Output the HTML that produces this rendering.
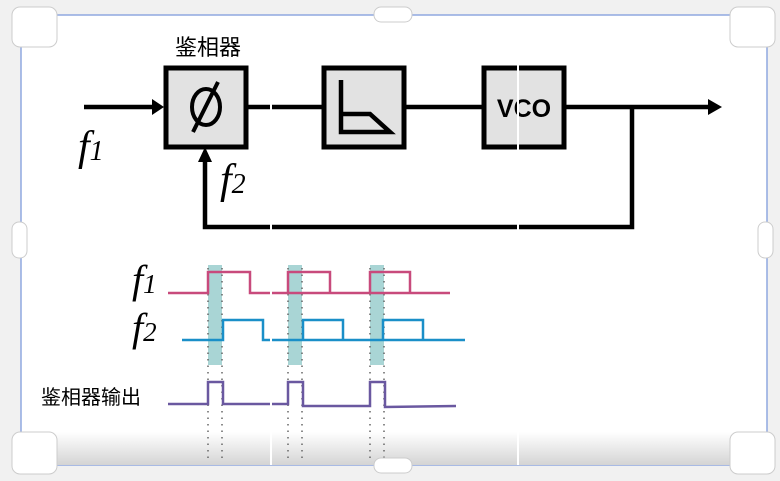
<!DOCTYPE html>
<html><head><meta charset="utf-8"><style>
html,body{margin:0;padding:0;background:#f1f1f1;}
svg{display:block}
</style></head><body>
<svg width="780" height="481" viewBox="0 0 780 481" xmlns="http://www.w3.org/2000/svg">
<defs>
<linearGradient id="g" x1="0" y1="0" x2="0" y2="1">
<stop offset="0" stop-color="#ffffff"/><stop offset="1" stop-color="#d4d4d4"/></linearGradient>
</defs>
<rect x="0" y="0" width="780" height="481" fill="#f1f1f1"/>
<rect x="21" y="15" width="746" height="450" fill="#fff" stroke="#8fa8e0" stroke-width="1.5"/>
<rect x="22" y="432" width="744" height="33" fill="url(#g)"/>
<g stroke="#000" stroke-width="5" fill="#e2e2e2">
<rect x="166" y="68" width="80" height="79"/>
<rect x="324" y="68" width="80" height="79"/>
<rect x="484" y="68" width="80" height="79"/>
</g>
<g stroke="#000" stroke-width="4.5" fill="none">
<line x1="84" y1="107" x2="156" y2="107"/>
<line x1="246" y1="107" x2="324" y2="107"/>
<line x1="404" y1="107" x2="484" y2="107"/>
<line x1="564" y1="107" x2="710" y2="107"/>
<polyline points="632,107 632,227 205,227 205,160"/>
<polyline points="341,80 341,132 390,132 370,114 341,114"/>
</g>
<g stroke="#000" stroke-width="4" fill="none">
<ellipse cx="206" cy="107" rx="14" ry="18"/>
<line x1="218" y1="82" x2="193" y2="132"/>
</g>
<polygon points="164,107 152,99 152,115" fill="#000"/>
<polygon points="722,107 708,99 708,115" fill="#000"/>
<polygon points="205,147 198,162 212,162" fill="#000"/>
<text x="524" y="117" font-family="Liberation Sans,sans-serif" font-weight="bold" font-size="25" text-anchor="middle">VCO</text>
<text x="208" y="55" font-family="Liberation Sans,'Noto Sans CJK SC',sans-serif" font-size="22" text-anchor="middle">鉴相器</text>
<text x="78" y="160" font-family="Liberation Serif,serif" font-style="italic" font-size="42">f<tspan font-size="28">1</tspan></text>
<text x="220" y="193" font-family="Liberation Serif,serif" font-style="italic" font-size="42">f<tspan font-size="28">2</tspan></text>
<g fill="#a9d5d5">
<rect x="208" y="265" width="14" height="100"/>
<rect x="288" y="265" width="14" height="100"/>
<rect x="370" y="265" width="14" height="100"/>
</g>
<g stroke="#666" stroke-width="1.5" stroke-dasharray="1.5,5">
<line x1="208" y1="268" x2="208" y2="462"/><line x1="222" y1="268" x2="222" y2="462"/>
<line x1="288" y1="268" x2="288" y2="462"/><line x1="302" y1="268" x2="302" y2="462"/>
<line x1="370" y1="268" x2="370" y2="462"/><line x1="384" y1="268" x2="384" y2="462"/>
</g>
<g fill="none" stroke-width="2.5">
<polyline stroke="#c84a7c" points="168,293 208,293 208,272 250,272 250,293 450,293"/>
<polyline stroke="#c84a7c" points="288,293 288,272 330,272 330,293"/>
<polyline stroke="#c84a7c" points="370,293 370,272 410,272 410,293"/>
<polyline stroke="#1a8fc8" points="182,340 223,340 223,320 263,320 263,340 465,340"/>
<polyline stroke="#1a8fc8" points="303,340 303,320 343,320 343,340"/>
<polyline stroke="#1a8fc8" points="383,340 383,320 423,320 423,340"/>
<polyline stroke="#6a58a0" points="168,404 208,404 208,382 223,382 223,404 288,404 288,382 303,382 303,406 370,406 370,382 385,382 385,407 456,406"/>
</g>
<text x="132" y="293" font-family="Liberation Serif,serif" font-style="italic" font-size="40">f<tspan font-size="27">1</tspan></text>
<text x="132" y="341" font-family="Liberation Serif,serif" font-style="italic" font-size="40">f<tspan font-size="27">2</tspan></text>
<text x="41" y="404" font-family="Liberation Sans,'Noto Sans CJK SC',sans-serif" font-size="20">鉴相器输出</text>
<g stroke="#fff" stroke-width="2">
<line x1="271" y1="100" x2="271" y2="465"/>
<line x1="518" y1="60" x2="518" y2="465"/>
</g>
<g fill="#fff" stroke="#ccc" stroke-width="1">
<rect x="374" y="7" width="38" height="15" rx="7"/>
<rect x="374" y="458" width="38" height="15" rx="7"/>
<rect x="12" y="222" width="15" height="36" rx="7"/>
<rect x="758" y="222" width="15" height="36" rx="7"/>
<rect x="12" y="7" width="45" height="40" rx="8"/>
<rect x="730" y="7" width="45" height="40" rx="8"/>
<rect x="12" y="432" width="45" height="42" rx="8"/>
<rect x="730" y="432" width="45" height="42" rx="8"/>
</g>
</svg>
</body></html>
